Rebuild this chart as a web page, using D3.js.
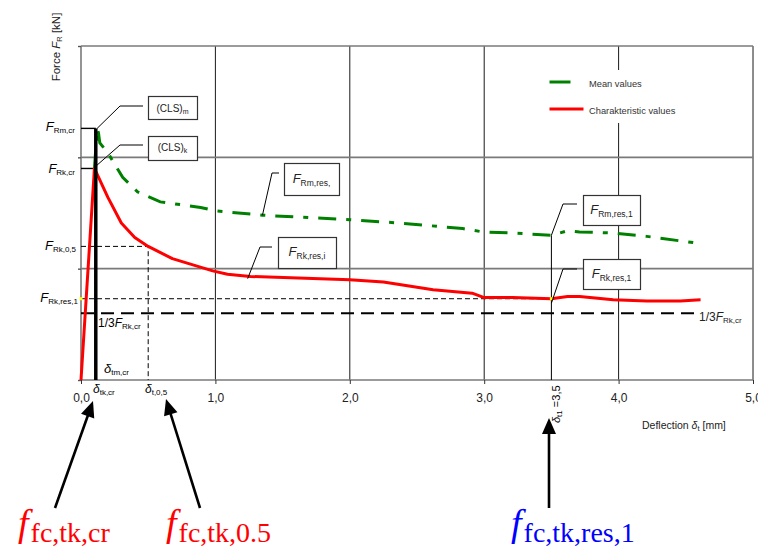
<!DOCTYPE html>
<html><head><meta charset="utf-8">
<script src="https://cdn.jsdelivr.net/npm/d3@7"></script>
<style>body{margin:0;background:#fff}svg{display:block}</style>
</head><body><svg id="c" width="758" height="552"></svg>
<script>
// ---------- data ----------
const xTicks = [0, 1, 2, 3, 4, 5];
const xTickLabels = ["0,0", "1,0", "2,0", "3,0", "4,0", "5,0"];
const yTicks = [0, 1, 2, 3];

// characteristic values (red)
const charX = [0, 0.10, 0.20, 0.30, 0.40, 0.50, 0.68, 0.79, 0.98, 1.09, 1.26, 2.00, 2.25, 2.62, 2.91, 3.00, 3.21, 3.50, 3.62, 3.71, 3.96, 4.21, 4.46, 4.61];
const charY = [0, 1.90, 1.64, 1.41, 1.28, 1.20, 1.09, 1.05, 0.98, 0.95, 0.93, 0.90, 0.88, 0.81, 0.78, 0.74, 0.74, 0.73, 0.75, 0.75, 0.72, 0.71, 0.71, 0.72];

// mean values (green)
const meanX = [0.10, 0.12, 0.13, 0.14, 0.20, 0.31, 0.42, 0.59, 0.89, 1.00, 1.35, 2.00, 2.37, 2.84, 2.99, 3.21, 3.50, 3.62, 3.71, 3.96, 4.21, 4.58];
const meanY = [1.90, 2.26, 2.22, 2.13, 2.04, 1.82, 1.69, 1.60, 1.55, 1.52, 1.48, 1.44, 1.41, 1.36, 1.33, 1.32, 1.30, 1.34, 1.33, 1.32, 1.29, 1.23];

// characteristic levels
const FRmcr = 2.26, FRkcr = 1.90, FRk05 = 1.20, FRkres1 = 0.73, FRkThird = 0.60;
const dTkcr = 0.11, dT05 = 0.5, dT1 = 3.5;
const legendLabels = ["Mean values", "Charakteristic values"];

// ---------- setup ----------
const svg = d3.select("#c");
svg.append("rect").attr("width", 758).attr("height", 552).attr("fill", "#fff");
const x = d3.scaleLinear().domain([0, 5]).range([81, 753]);
const y = d3.scaleLinear().domain([0, 3]).range([380, 46]);
const SANS = "'Liberation Sans', Arial, sans-serif";
const SERIF = "'Liberation Serif', 'Times New Roman', serif";

function rich(sel, px, py, parts, o = {}) {
  const t = sel.append("text")
    .attr("x", px).attr("y", py)
    .attr("font-family", o.family || SANS)
    .attr("font-size", o.size || 11)
    .attr("fill", o.fill || "#000")
    .attr("text-anchor", o.anchor || "start");
  if (o.transform) t.attr("transform", o.transform);
  let shift = 0;
  parts.forEach(p => {
    const ts = t.append("tspan").text(p.t);
    if (p.i) ts.attr("font-style", "italic");
    if (p.s) ts.attr("font-size", p.s);
    if (p.dx) ts.attr("dx", p.dx);
    const target = p.dy || 0;
    if (target !== shift) { ts.attr("dy", target - shift); shift = target; }
  });
  return t;
}

// ---------- grid ----------
const grid = svg.append("g");
grid.selectAll("line.v").data(xTicks.slice(1)).join("line")
  .attr("x1", d => x(d)).attr("x2", d => x(d))
  .attr("y1", y(3)).attr("y2", y(0))
  .attr("stroke", "#1a1a1a").attr("stroke-width", 1);
grid.selectAll("line.h").data(yTicks).join("line")
  .attr("x1", x(0)).attr("x2", x(5))
  .attr("y1", d => y(d)).attr("y2", d => y(d))
  .attr("stroke", "#7a7a7a").attr("stroke-width", 1.6);
grid.append("line").attr("x1", x(0)).attr("x2", x(0)).attr("y1", y(3)).attr("y2", y(0))
  .attr("stroke", "#7a7a7a").attr("stroke-width", 1.6);

// axes (ticks and labels)
const xAxis = svg.append("g").attr("transform", `translate(0,${y(0)})`)
  .call(d3.axisBottom(x).tickValues(xTicks).tickFormat((d, i) => xTickLabels[i]).tickSizeInner(4).tickSizeOuter(0).tickPadding(9.5));
xAxis.select(".domain").remove();
xAxis.selectAll("line").attr("stroke", "#333");
xAxis.selectAll("text").attr("font-family", SANS).attr("font-size", 12).attr("fill", "#222");

const yAxis = svg.append("g").attr("transform", `translate(${x(0)},0)`)
  .call(d3.axisLeft(y).tickValues(yTicks).tickFormat("").tickSizeInner(3).tickSizeOuter(0));
yAxis.select(".domain").remove();
yAxis.selectAll("line").attr("stroke", "#555").attr("stroke-width", 1.4);

// legend background (interrupts grid)
svg.append("rect").attr("x", 540).attr("y", 70).attr("width", 160).attr("height", 53).attr("fill", "#fff");

// ---------- reference lines ----------
const ref = svg.append("g");
// F_Rk,0.5 dashed
ref.append("path")
  .attr("d", `M${x(0)},${y(FRk05)}H${x(dT05)}V${y(0)}`)
  .attr("fill", "none").attr("stroke", "#000").attr("stroke-width", 1).attr("stroke-dasharray", "5,3");
// F_Rk,res,1 dashed
ref.append("line").attr("x1", x(0)).attr("x2", x(dT1)).attr("y1", y(FRkres1)).attr("y2", y(FRkres1))
  .attr("stroke", "#000").attr("stroke-width", 1).attr("stroke-dasharray", "5,3");
// 1/3 F_Rk,cr thick dashed
ref.append("line").attr("x1", x(0)).attr("x2", x(4.6)).attr("y1", y(FRkThird)).attr("y2", y(FRkThird))
  .attr("stroke", "#000").attr("stroke-width", 2).attr("stroke-dasharray", "13,7");
// cracking level markers
ref.append("line").attr("x1", x(0)).attr("x2", x(dTkcr)).attr("y1", y(FRmcr)).attr("y2", y(FRmcr))
  .attr("stroke", "#000").attr("stroke-width", 1.4);
ref.append("line").attr("x1", x(0)).attr("x2", x(dTkcr)).attr("y1", y(FRkcr)).attr("y2", y(FRkcr))
  .attr("stroke", "#000").attr("stroke-width", 1.4);
// vertical at delta_t1
ref.append("line").attr("x1", x(dT1)).attr("x2", x(dT1)).attr("y1", y(1.30)).attr("y2", y(0))
  .attr("stroke", "#000").attr("stroke-width", 1);

// ---------- curves ----------
const line = d3.line().x(d => x(d[0])).y(d => y(d[1]));
svg.append("path").datum(d3.zip(meanX, meanY)).attr("d", line)
  .attr("fill", "none").attr("stroke", "#008000").attr("stroke-width", 3)
  .attr("stroke-dasharray", "18,10,5,10");
svg.append("path").datum(d3.zip(charX, charY)).attr("d", line)
  .attr("fill", "none").attr("stroke", "#ff0000").attr("stroke-width", 3).attr("stroke-linejoin", "round");
// thick black line at delta_tk,cr
svg.append("line").attr("x1", x(dTkcr)).attr("x2", x(dTkcr)).attr("y1", y(FRmcr)).attr("y2", y(0))
  .attr("stroke", "#000").attr("stroke-width", 3.5);

// yellow markers
svg.selectAll("rect.mk").data([0, dT1]).join("rect")
  .attr("x", d => x(d) - 1.5).attr("y", y(FRkres1) - 1.5).attr("width", 3).attr("height", 3).attr("fill", "#ffff00");

// ---------- callouts ----------
const callouts = [
  { a: [0.12, FRmcr], elbow: [120, 106], end: [143, 106], box: [148, 96, 49, 23], parts: [{ t: "(CLS)" }, { t: "m", s: 7, dy: 2 }], size: 10, by: 112 },
  { a: [0.11, 1.92], elbow: [120, 145], end: [143, 145], box: [148, 136, 49, 24], parts: [{ t: "(CLS)" }, { t: "k", s: 7, dy: 2 }], size: 10, by: 151 },
  { a: [1.35, 1.48], elbow: [272, 173], end: [279, 173], box: [284, 163, 55, 32], parts: [{ t: "F", i: 1 }, { t: "Rm,res,", s: 8.5, dy: 3 }], size: 13, by: 183 },
  { a: [1.24, 0.91], elbow: [260, 247], end: [272, 247], box: [278, 237, 58, 31], parts: [{ t: "F", i: 1 }, { t: "Rk,res,i", s: 8.5, dy: 3 }], size: 13, by: 256 },
  { a: [dT1, 1.30], elbow: [563, 204], end: [577, 204], box: [583, 195, 57, 30], parts: [{ t: "F", i: 1 }, { t: "Rm,res,1", s: 8.5, dy: 3 }], size: 13, by: 214 },
  { a: [dT1, 0.69], elbow: [563, 269], end: [577, 269], box: [583, 259, 57, 30], parts: [{ t: "F", i: 1 }, { t: "Rk,res,1", s: 8.5, dy: 3 }], size: 13, by: 278 }
];
const cg = svg.append("g");
callouts.forEach(c => {
  cg.append("path").attr("d", `M${x(c.a[0])},${y(c.a[1])}L${c.elbow[0]},${c.elbow[1]}H${c.end[0]}`)
    .attr("fill", "none").attr("stroke", "#000").attr("stroke-width", 1);
  cg.append("rect").attr("x", c.box[0] + 0.5).attr("y", c.box[1] + 0.5).attr("width", c.box[2]).attr("height", c.box[3])
    .attr("fill", "#fff").attr("stroke", "#333").attr("stroke-width", 1.2);
  rich(cg, c.box[0] + c.box[2] / 2, c.by, c.parts, { size: c.size, anchor: "middle", fill: "#222" });
});

// ---------- labels ----------
const lg = svg.append("g");
rich(lg, 75, 131, [{ t: "F", i: 1 }, { t: "Rm,cr", s: 8, dy: 2 }], { size: 13, anchor: "end" });
rich(lg, 75, 173, [{ t: "F", i: 1 }, { t: "Rk,cr", s: 8, dy: 2 }], { size: 13, anchor: "end" });
rich(lg, 76, 250, [{ t: "F", i: 1 }, { t: "Rk,0,5", s: 8, dy: 2 }], { size: 13, anchor: "end" });
rich(lg, 78, 302, [{ t: "F", i: 1 }, { t: "Rk,res,1", s: 8, dy: 2 }], { size: 13, anchor: "end" });
rich(lg, 98, 327, [{ t: "1/3" }, { t: "F", i: 1 }, { t: "Rk,cr", s: 8, dy: 2 }], { size: 12 });
rich(lg, 699, 321, [{ t: "1/3" }, { t: "F", i: 1 }, { t: "Rk,cr", s: 8, dy: 2 }], { size: 12, fill: "#222" });
rich(lg, 104, 373, [{ t: "δ", i: 1 }, { t: "tm,cr", s: 8, dy: 2 }], { size: 13 });
rich(lg, 93, 393, [{ t: "δ", i: 1 }, { t: "tk,cr", s: 8, dy: 2 }], { size: 12 });
rich(lg, 145, 393, [{ t: "δ", i: 1 }, { t: "t,0,5", s: 8, dy: 2 }], { size: 12 });
rich(lg, 0, 0, [{ t: "δ", i: 1 }, { t: "t1", s: 8, dy: 2 }, { t: " =3,5", dy: 0 }], { size: 11, transform: "translate(560,423) rotate(-90)" });
rich(lg, 642, 429, [{ t: "Deflection " }, { t: "δ", i: 1 }, { t: "t", s: 7.5, dy: 2 }, { t: " [mm]", dy: 0 }], { size: 10.5, fill: "#222" });
rich(lg, 0, 0, [{ t: "Force " }, { t: "F", i: 1 }, { t: "R", s: 7.5, dy: 2 }, { t: " [kN]", dy: 0 }], { size: 11.5, anchor: "middle", fill: "#222", transform: "translate(60,47) rotate(-90)" });

// legend
const legendColors = ["#008000", "#ff0000"];
const legendLen = [21, 34];
const leg = svg.append("g");
legendLabels.forEach((l, i) => {
  const ly = 82 + i * 27;
  leg.append("line").attr("x1", 549.5).attr("x2", 549.5 + legendLen[i]).attr("y1", ly).attr("y2", ly)
    .attr("stroke", legendColors[i]).attr("stroke-width", 3);
  leg.append("text").attr("x", 589).attr("y", ly + 4.5).attr("font-family", SANS).attr("font-size", 9.3)
    .attr("fill", "#333").text(l);
});

// ---------- bottom annotations ----------
const arrows = [
  { tail: [55, 508], tip: [93, 401] },
  { tail: [200, 508], tip: [166, 399] },
  { tail: [549, 508], tip: [549, 418] }
];
const ag = svg.append("g");
arrows.forEach(a => {
  const dx = a.tip[0] - a.tail[0], dy = a.tip[1] - a.tail[1];
  const L = Math.hypot(dx, dy), ux = dx / L, uy = dy / L;
  const hl = 16, hw = 7;
  const bx = a.tip[0] - ux * hl, by = a.tip[1] - uy * hl;
  ag.append("line").attr("x1", a.tail[0]).attr("y1", a.tail[1]).attr("x2", bx + ux * 2).attr("y2", by + uy * 2)
    .attr("stroke", "#000").attr("stroke-width", 2.6);
  ag.append("path").attr("d", `M${a.tip[0]},${a.tip[1]}L${bx - uy * hw},${by + ux * hw}L${bx + uy * hw},${by - ux * hw}Z`)
    .attr("fill", "#000");
});
const bottomLabels = [
  { x: 18, sub: "fc,tk,cr", color: "#ff0000" },
  { x: 166, sub: "fc,tk,0.5", color: "#ff0000" },
  { x: 511, sub: "fc,tk,res,1", color: "#0000ff" }
];
bottomLabels.forEach(b => {
  rich(ag, b.x, 536, [{ t: "f", i: 1, s: 38 }, { t: b.sub, s: 28, dy: 6, dx: 2 }], { family: SERIF, fill: b.color, size: 28 });
});
</script></body></html>
